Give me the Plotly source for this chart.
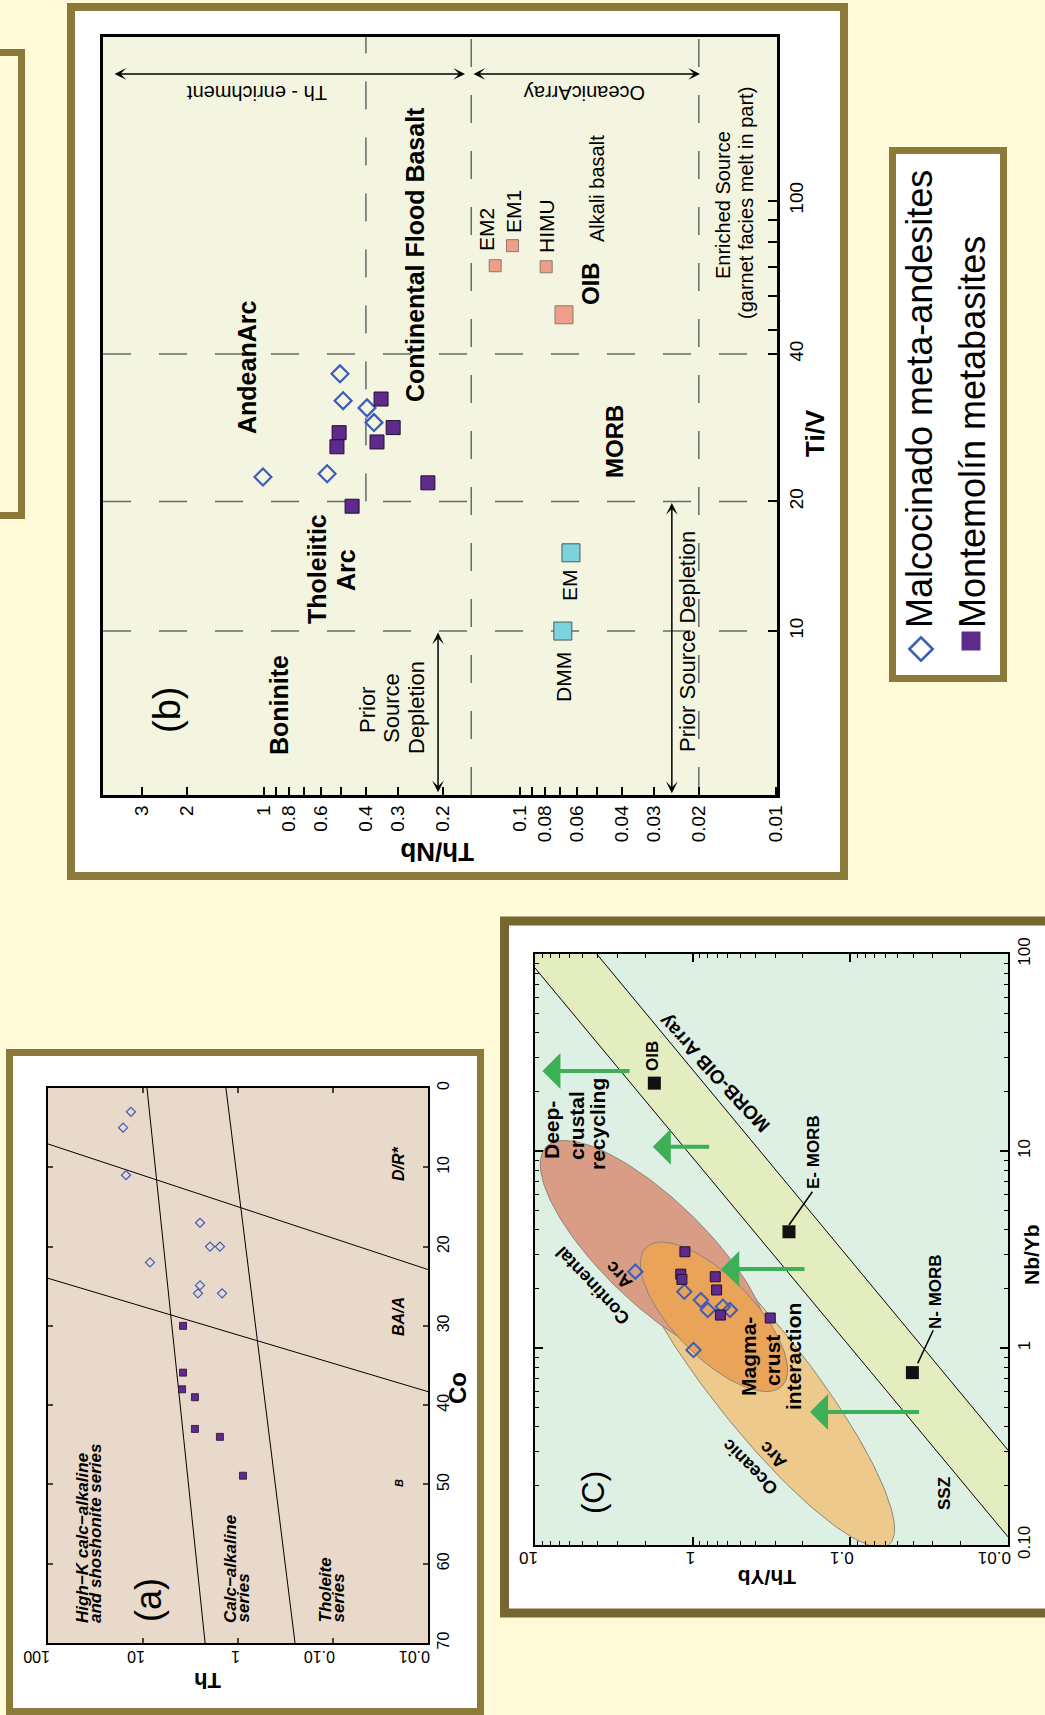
import numpy as np
import plotly.graph_objects as go

W, H = 1045, 1715
FONT = "Liberation Sans, Arial, Helvetica, sans-serif"
BORDER = "#8C7A3A"
BORDER_C = "#766631"
PAGE_BG = "#FFFBD8"

# ---------------- Panel (b): Th/Nb vs Ti/V ----------------
b_malc_thnb = [0.505, 0.491, 0.396, 0.372, 1.01, 0.567]
b_malc_tiv = [39.6, 34.3, 33.0, 30.5, 22.8, 23.2]
b_mont_thnb = [0.349, 0.313, 0.509, 0.519, 0.362, 0.229, 0.453]
b_mont_tiv = [34.6, 29.7, 28.9, 26.8, 27.5, 22.1, 19.5]
b_ref_names = ["EM2", "EM1", "HIMU", "OIB"]
b_ref_thnb = [0.125, 0.107, 0.079, 0.0673]
b_ref_tiv = [70.6, 78.6, 70.2, 54.3]
b_ref_size = [12, 12, 12, 18]
b_mantle_names = ["DMM", "EM"]
b_mantle_thnb = [0.068, 0.0632]
b_mantle_tiv = [10.0, 15.2]
b_vline_thnb = [0.4, 0.155, 0.02]
b_vline_low = [20, None, None]
b_hline_tiv = [10, 20, 44]
b_x_range = [4.26, 0.0099]
b_y_range = [4.16, 240]
b_x_ticks = [3, 2, 1, 0.9, 0.8, 0.7, 0.6, 0.5, 0.4, 0.3, 0.2,
             0.1, 0.09, 0.08, 0.07, 0.06, 0.05, 0.04, 0.03, 0.02, 0.01]
b_x_ticktext = ["3", "2", "1", "", "0.8", "", "0.6", "", "0.4", "0.3", "0.2",
                "0.1", "", "0.08", "", "0.06", "", "0.04", "0.03", "0.02", "0.01"]
b_y_ticks = [10, 20, 44, 50, 60, 70, 80, 90, 100]
b_y_ticktext = ["10", "20", "40", "", "", "", "", "", "100"]
b_arrow_x0 = [3.89, 0.154, 0.209, 0.0255]
b_arrow_x1 = [0.164, 0.0198, 0.209, 0.0255]
b_arrow_y0 = [197, 197, 10, 20]
b_arrow_y1 = [197, 197, 4.22, 4.2]

# ---------------- Panel (a): Th vs Co ----------------
a_malc_th = [13.4, 16.2, 15.1, 2.51, 1.97, 1.55, 8.44, 2.51, 2.64, 1.47]
a_malc_co = [3.0, 5.0, 11.0, 17.0, 20.0, 20.0, 22.0, 24.9, 25.9, 25.9]
a_mont_th = [3.79, 3.79, 3.88, 2.84, 2.84, 1.55, 0.886]
a_mont_co = [30.0, 35.9, 38.0, 39.0, 43.0, 44.0, 48.9]
a_line_th = [[9.08, 2.22], [1.34, 0.251], [100, 0.01], [100, 0.01]]
a_line_co = [[0, 70], [0, 70], [7.06, 22.9], [24.0, 38.3]]
a_x_ticks = [100, 10, 1, 0.1, 0.01]
a_x_ticktext = ["100", "10", "1", "0.10", "0.01"]
a_y_ticks = [0, 10, 20, 30, 40, 50, 60, 70]

# ---------------- Panel (c): Th/Yb vs Nb/Yb ----------------
c_malc_thyb = [2.31, 1.13, 0.887, 0.802, 0.643, 0.580, 0.988]
c_malc_nbyb = [2.44, 1.93, 1.75, 1.56, 1.62, 1.56, 0.977]
c_mont_thyb = [1.12, 1.19, 1.17, 0.719, 0.705, 0.667, 0.322]
c_mont_nbyb = [3.08, 2.37, 2.23, 2.30, 1.97, 1.47, 1.42]
c_ref_names = ["OIB", "E- MORB", "N- MORB"]
c_ref_thyb = [1.75, 0.245, 0.0404]
c_ref_nbyb = [22.1, 3.89, 0.75]
c_lead_thyb = [[0.245, 0.174], [0.0374, 0.0298]]
c_lead_nbyb = [[4.21, 6.21], [0.835, 1.23]]
c_arrA_thyb = [10, 0.01]
c_arrA_nbyb = [84.9, 0.11]
c_arrB_thyb = [4.06, 0.01]
c_arrB_nbyb = [100, 0.303]
# ellipses drawn in this order: oceanic arc, continental arc, magma-crust interaction
c_ell_names = ["Oceanic Arc", "Continental Arc", "Magma-crust interaction"]
c_ell_thyb = [0.385, 1.76, 0.733]
c_ell_nbyb = [0.705, 3.10, 1.44]
c_ell_major = [(-0.831, -0.846), (-0.684, -0.529), (-0.431, -0.352)]
c_ell_minor = [(-0.244, 0.154), (-0.229, 0.190), (-0.181, 0.142)]
c_ell_colors = ["#EDC98B", "#D99D85", "#E9A45A"]
c_garrow_tail = [2.46, 0.769, 0.191, 0.0359]
c_garrow_head = [8.97, 1.79, 0.659, 0.180]
c_garrow_nbyb = [25.5, 10.5, 2.52, 0.473]
c_x_ticks = [10, 1, 0.1, 0.01]
c_x_ticktext = ["10", "1", "0.1", "0.01"]
c_y_ticks = [100, 10, 1, 0.1]
c_y_ticktext = ["100", "10", "1", "0.10"]

MALC_COLOR = "#3D5CB8"
MONT_COLOR = "#5E2B8C"


def X(p):
    return p / W


def Y(p):
    return 1 - p / H


fig = go.Figure()

# ---- panel b traces ----
for i, v in enumerate(b_vline_thnb):
    lo = b_vline_low[i] if b_vline_low[i] is not None else b_y_range[0]
    fig.add_trace(go.Scatter(x=[v, v], y=[lo, b_y_range[1]], mode="lines",
                             line=dict(color="#6A6A6A", width=1.5, dash="28px,28px"),
                             xaxis="x", yaxis="y", showlegend=False, hoverinfo="skip"))
for v in b_hline_tiv:
    fig.add_trace(go.Scatter(x=[b_x_range[0], b_x_range[1]], y=[v, v], mode="lines",
                             line=dict(color="#6A6A6A", width=1.5, dash="28px,28px"),
                             xaxis="x", yaxis="y", showlegend=False, hoverinfo="skip"))
fig.add_trace(go.Scatter(x=b_ref_thnb, y=b_ref_tiv, mode="markers", text=b_ref_names,
                         marker=dict(symbol="square", size=b_ref_size, color="#EE7A64",
                                     line=dict(color="#5a4a40", width=1)),
                         xaxis="x", yaxis="y", showlegend=False))
fig.add_trace(go.Scatter(x=b_mantle_thnb, y=b_mantle_tiv, mode="markers", text=b_mantle_names,
                         marker=dict(symbol="square", size=18, color="#7DD3DD",
                                     line=dict(color="#4a5a60", width=1)),
                         xaxis="x", yaxis="y", showlegend=False))
fig.add_trace(go.Scatter(x=b_malc_thnb, y=b_malc_tiv, mode="markers", name="Malcocinado meta-andesites",
                         marker=dict(symbol="diamond-open", size=13, color=MALC_COLOR, line=dict(width=2.2)),
                         xaxis="x", yaxis="y", showlegend=False))
fig.add_trace(go.Scatter(x=b_mont_thnb, y=b_mont_tiv, mode="markers", name="Montemolín metabasites",
                         marker=dict(symbol="square", size=14, color=MONT_COLOR,
                                     line=dict(color="#22102f", width=1)),
                         xaxis="x", yaxis="y", showlegend=False))

# ---- panel a traces ----
for th, co in zip(a_line_th, a_line_co):
    fig.add_trace(go.Scatter(x=th, y=co, mode="lines", line=dict(color="black", width=1),
                             xaxis="x2", yaxis="y2", showlegend=False, hoverinfo="skip"))
fig.add_trace(go.Scatter(x=a_malc_th, y=a_malc_co, mode="markers",
                         marker=dict(symbol="diamond-open", size=7, color=MALC_COLOR, line=dict(width=1.2)),
                         xaxis="x2", yaxis="y2", showlegend=False))
fig.add_trace(go.Scatter(x=a_mont_th, y=a_mont_co, mode="markers",
                         marker=dict(symbol="square", size=7, color=MONT_COLOR,
                                     line=dict(color="#22102f", width=0.8)),
                         xaxis="x2", yaxis="y2", showlegend=False))

# ---- panel c traces ----
band_x = [c_arrA_thyb[0], c_arrA_thyb[0], c_arrB_thyb[0], c_arrB_thyb[1], c_arrA_thyb[1]]
band_y = [c_arrA_nbyb[0], c_arrB_nbyb[0], c_arrB_nbyb[0], c_arrB_nbyb[1], c_arrA_nbyb[1]]
fig.add_trace(go.Scatter(x=band_x, y=band_y, mode="lines", fill="toself", fillcolor="#E3EDC0",
                         line=dict(width=0), xaxis="x3", yaxis="y3", showlegend=False, hoverinfo="skip"))
for xs, ys in [(c_arrA_thyb, c_arrA_nbyb), (c_arrB_thyb, c_arrB_nbyb)]:
    fig.add_trace(go.Scatter(x=xs, y=ys, mode="lines", line=dict(color="black", width=1),
                             xaxis="x3", yaxis="y3", showlegend=False, hoverinfo="skip"))
t = np.linspace(0, 2 * np.pi, 181)
for i in range(len(c_ell_names)):
    u = np.log10(c_ell_thyb[i]) + c_ell_major[i][0] * np.cos(t) + c_ell_minor[i][0] * np.sin(t)
    v = np.log10(c_ell_nbyb[i]) + c_ell_major[i][1] * np.cos(t) + c_ell_minor[i][1] * np.sin(t)
    fig.add_trace(go.Scatter(x=10 ** u, y=10 ** v, mode="lines", fill="toself",
                             fillcolor=c_ell_colors[i], line=dict(color="#8f8477", width=1),
                             name=c_ell_names[i], xaxis="x3", yaxis="y3", showlegend=False,
                             hoverinfo="skip"))
for lx, ly in zip(c_lead_thyb, c_lead_nbyb):
    fig.add_trace(go.Scatter(x=lx, y=ly, mode="lines", line=dict(color="black", width=1.5),
                             xaxis="x3", yaxis="y3", showlegend=False, hoverinfo="skip"))
fig.add_trace(go.Scatter(x=c_ref_thyb, y=c_ref_nbyb, mode="markers", text=c_ref_names,
                         marker=dict(symbol="square", size=13, color="#111111"),
                         xaxis="x3", yaxis="y3", showlegend=False))
fig.add_trace(go.Scatter(x=c_malc_thyb, y=c_malc_nbyb, mode="markers",
                         marker=dict(symbol="diamond-open", size=11, color=MALC_COLOR, line=dict(width=2)),
                         xaxis="x3", yaxis="y3", showlegend=False))
fig.add_trace(go.Scatter(x=c_mont_thyb, y=c_mont_nbyb, mode="markers",
                         marker=dict(symbol="square", size=10, color=MONT_COLOR,
                                     line=dict(color="#22102f", width=1)),
                         xaxis="x3", yaxis="y3", showlegend=False))

# ---- legend glyphs (own hidden axes in pixel units) ----
fig.add_trace(go.Scatter(x=[921], y=[649], mode="markers",
                         marker=dict(symbol="diamond-open", size=18, color=MALC_COLOR, line=dict(width=2.5)),
                         xaxis="x4", yaxis="y4", showlegend=False, hoverinfo="skip"))
fig.add_trace(go.Scatter(x=[971], y=[641], mode="markers",
                         marker=dict(symbol="square", size=19, color=MONT_COLOR),
                         xaxis="x4", yaxis="y4", showlegend=False, hoverinfo="skip"))

# ---------------- shapes: panels and plot backgrounds ----------------
shapes = []


def rect(x0, y0, x1, y1, line_color, lw, fill=None):
    shapes.append(dict(type="rect", xref="paper", yref="paper", x0=X(x0), x1=X(x1), y0=Y(y1), y1=Y(y0),
                       line=dict(color=line_color, width=lw),
                       fillcolor=fill if fill else "rgba(0,0,0,0)", layer="below"))


rect(-20, 52.5, 21.5, 515.5, BORDER, 7)
rect(71, 7, 844, 876, BORDER, 8, "white")
rect(9.5, 1052.5, 480.5, 1711.5, BORDER, 7, "white")
rect(504.5, 921, 1070, 1613, BORDER_C, 9, "white")
rect(892.5, 150.5, 1003.5, 678.5, BORDER, 7, "white")
for ax, col in [("", "#F4F5E1"), ("2", "#E9D9CA"), ("3", "#DEEFE4")]:
    shapes.append(dict(type="rect", xref=f"x{ax} domain", yref=f"y{ax} domain", x0=0, x1=1, y0=0, y1=1,
                       line=dict(width=0), fillcolor=col, layer="below"))

# ---------------- annotations ----------------
ann = []


def txt(s, x, y, size, bold=False, italic=False, angle=-90, xa="center", ya="middle"):
    if italic:
        s = f"<i>{s}</i>"
    if bold:
        s = f"<b>{s}</b>"
    ann.append(dict(text=s, x=X(x), y=Y(y), xref="paper", yref="paper", showarrow=False,
                    textangle=angle, xanchor=xa, yanchor=ya,
                    font=dict(family=FONT, size=size, color="black")))


# panel b labels
txt("(b)", 167, 710, 38)
txt("Boninite", 279, 705, 25, bold=True)
txt("Prior", 367, 710, 22)
txt("Source", 391, 708, 22)
txt("Depletion", 416, 708, 22)
txt("Tholeiitic", 317, 569, 25, bold=True)
txt("Arc", 346, 570, 25, bold=True)
txt("AndeanArc", 247, 368, 25, bold=True)
txt("Continental Flood Basalt", 415, 255, 25, bold=True)
txt("EM2", 487, 230, 21)
txt("EM1", 514, 212, 21)
txt("HIMU", 547, 226, 21)
txt("Alkali basalt", 597, 189, 20)
txt("OIB", 591, 284, 24, bold=True)
txt("Enriched Source", 723, 205, 20)
txt("(garnet facies melt in part)", 746, 203, 20)
txt("MORB", 615, 442, 24, bold=True)
txt("DMM", 563, 677, 21)
txt("EM", 570, 585, 21)
txt("Prior Source Depletion", 687, 642, 22)
txt("Th - enrichment", 257, 93, 20, angle=180)
txt("OceanicArray", 585, 93, 20, angle=180)
txt("Th/Nb", 437, 852, 26, bold=True, angle=180)
txt("Ti/V", 815, 433, 26, bold=True)

# panel a labels
txt("(a)", 148, 1600, 36)
txt("High\u2212K calc\u2212alkaline", 82, 1625, 17, bold=True, italic=True, ya="bottom")
txt("and shoshonite series", 95, 1625, 17, bold=True, italic=True, ya="bottom")
txt("Calc\u2212alkaline", 230, 1625, 17, bold=True, italic=True, ya="bottom")
txt("series", 243, 1625, 17, bold=True, italic=True, ya="bottom")
txt("Tholeite", 325, 1625, 17, bold=True, italic=True, ya="bottom")
txt("series", 338, 1625, 17, bold=True, italic=True, ya="bottom")
txt("D/R*", 398, 1164, 16, bold=True, italic=True)
txt("BA/A", 398, 1317, 16, bold=True, italic=True)
txt("B", 399, 1483, 11, bold=True, italic=True)
txt("Th", 208, 1681, 22, bold=True, angle=180)
txt("Co", 457, 1388, 24, bold=True)

# panel c labels
txt("(C)", 593, 1493, 31)
txt("Deep-", 551, 1130, 21, bold=True)
txt("crustal", 576, 1126, 21, bold=True)
txt("recycling", 597, 1124, 21, bold=True)
txt("MORB-OIB Array", 714, 1074, 19, bold=True, angle=-133)
txt("OIB", 652, 1056, 17, bold=True)
txt("E- MORB", 813, 1152, 17, bold=True)
txt("N- MORB", 935, 1292, 17, bold=True)
txt("Continental", 593, 1286, 18, bold=True, angle=-133)
txt("Arc", 619, 1275, 18, bold=True, angle=-133)
txt("Oceanic", 750, 1467, 18, bold=True, angle=-135)
txt("Arc", 773, 1455, 18, bold=True, angle=-135)
txt("Magma-", 748, 1357, 21, bold=True)
txt("crust", 772, 1361, 21, bold=True)
txt("interaction", 793, 1357, 21, bold=True)
txt("SSZ", 944, 1494, 17, bold=True)
txt("Th/Yb", 767, 1578, 21, bold=True, angle=180)
txt("Nb/Yb", 1031, 1255, 21, bold=True)

# legend labels
txt("Malcocinado meta-andesites", 920, 630, 36, ya="bottom")
txt("Montemolín metabasites", 973, 630, 36, ya="bottom")

# upside-down tick labels of the log x axes of panels a and c (placed at their tick values)
for val, lab in zip(a_x_ticks, a_x_ticktext):
    ann.append(dict(text=lab, x=np.log10(val), y=Y(1657), xref="x2", yref="paper", showarrow=False,
                    textangle=180, xanchor="right", yanchor="middle", xshift=4,
                    font=dict(family=FONT, size=16, color="black")))
for val, lab in zip(c_x_ticks, c_x_ticktext):
    ann.append(dict(text=lab, x=np.log10(val), y=Y(1558), xref="x3", yref="paper", showarrow=False,
                    textangle=180, xanchor="right", yanchor="middle", xshift=5,
                    font=dict(family=FONT, size=17, color="black")))

# panel b double arrows
for x0, x1, y0, y1 in zip(b_arrow_x0, b_arrow_x1, b_arrow_y0, b_arrow_y1):
    ann.append(dict(x=np.log10(x1), y=np.log10(y1), ax=np.log10(x0), ay=np.log10(y0),
                    xref="x", yref="y", axref="x", ayref="y", text="", showarrow=True,
                    arrowhead=3, startarrowhead=3, arrowside="end+start", arrowsize=1.3,
                    startarrowsize=1.3, arrowwidth=1.5, arrowcolor="black"))
# panel c green arrows
for tl, hd, yy in zip(c_garrow_tail, c_garrow_head, c_garrow_nbyb):
    ann.append(dict(x=np.log10(hd), y=np.log10(yy), ax=np.log10(tl), ay=np.log10(yy),
                    xref="x3", yref="y3", axref="x3", ayref="y3", text="", showarrow=True,
                    arrowhead=1, arrowsize=1.5, arrowwidth=4, arrowcolor="#3DAF56"))

# ---------------- axes ----------------
tickfont_b = dict(family=FONT, size=19, color="black")
tickfont_a = dict(family=FONT, size=16, color="black")
tickfont_c = dict(family=FONT, size=17, color="black")


def c_minor(lo, hi):
    vals = []
    for e in range(lo, hi):
        for m in range(2, 10):
            vals.append(m * 10.0 ** e)
    return vals


layout = dict(
    width=W, height=H, autosize=False, margin=dict(l=0, r=0, t=0, b=0, pad=0),
    paper_bgcolor=PAGE_BG, plot_bgcolor="rgba(0,0,0,0)", showlegend=False,
    shapes=shapes, annotations=ann,
    xaxis=dict(domain=[X(103), X(777)], anchor="y", type="log", automargin=False,
               range=[np.log10(b_x_range[0]), np.log10(b_x_range[1])],
               tickmode="array", tickvals=b_x_ticks, ticktext=b_x_ticktext, tickangle=-90,
               ticks="inside", ticklen=8, tickwidth=2, tickcolor="black", tickfont=tickfont_b,
               showline=True, linecolor="black", linewidth=2.5, mirror=True,
               showgrid=False, zeroline=False),
    yaxis=dict(domain=[Y(795), Y(37)], anchor="x", type="log", side="right", automargin=False,
               range=[np.log10(b_y_range[0]), np.log10(b_y_range[1])],
               tickmode="array", tickvals=b_y_ticks, ticktext=b_y_ticktext, tickangle=-90,
               ticks="inside", ticklen=9, tickwidth=2, tickcolor="black", tickfont=tickfont_b,
               showline=True, linecolor="black", linewidth=2.5, mirror=True,
               showgrid=False, zeroline=False),
    xaxis2=dict(domain=[X(48), X(428)], anchor="y2", type="log", range=[2, -2], automargin=False,
                tickmode="array", tickvals=a_x_ticks, showticklabels=False,
                ticks="inside", ticklen=5, tickwidth=1.5, tickcolor="#444",
                showline=True, linecolor="black", linewidth=2, mirror="ticks",
                showgrid=False, zeroline=False),
    yaxis2=dict(domain=[Y(1643), Y(1088)], anchor="x2", range=[70, 0], side="right", automargin=False,
                tickmode="array", tickvals=a_y_ticks, tickangle=-90,
                ticks="inside", ticklen=5, tickwidth=1.5, tickcolor="#444", tickfont=tickfont_a,
                showline=True, linecolor="black", linewidth=2, mirror="ticks",
                showgrid=False, zeroline=False),
    xaxis3=dict(domain=[X(535), X(1008)], anchor="y3", type="log", range=[1, -2], automargin=False,
                tickmode="array", tickvals=c_x_ticks, showticklabels=False,
                ticks="inside", ticklen=8, tickwidth=1.5, tickcolor="black",
                minor=dict(tickmode="array", tickvals=c_minor(-2, 1), ticks="inside", ticklen=4,
                           tickwidth=1, tickcolor="black"),
                showline=True, linecolor="black", linewidth=2, mirror="ticks",
                showgrid=False, zeroline=False),
    yaxis3=dict(domain=[Y(1545), Y(954)], anchor="x3", type="log", range=[-1, 2], side="right",
                automargin=False,
                tickmode="array", tickvals=c_y_ticks, ticktext=c_y_ticktext, tickangle=-90,
                ticks="inside", ticklen=8, tickwidth=1.5, tickcolor="black", tickfont=tickfont_c,
                minor=dict(tickmode="array", tickvals=c_minor(-1, 2), ticks="inside", ticklen=4,
                           tickwidth=1, tickcolor="black"),
                showline=True, linecolor="black", linewidth=2, mirror="ticks",
                showgrid=False, zeroline=False),
    xaxis4=dict(domain=[X(889), X(1007)], anchor="y4", range=[889, 1007], visible=False, automargin=False),
    yaxis4=dict(domain=[Y(682), Y(147)], anchor="x4", range=[682, 147], visible=False, automargin=False),
)
fig.update_layout(**layout)
fig.write_html("out.html", config={"displayModeBar": False},
               post_script="document.body.style.margin='0px';document.body.style.overflow='hidden';")
